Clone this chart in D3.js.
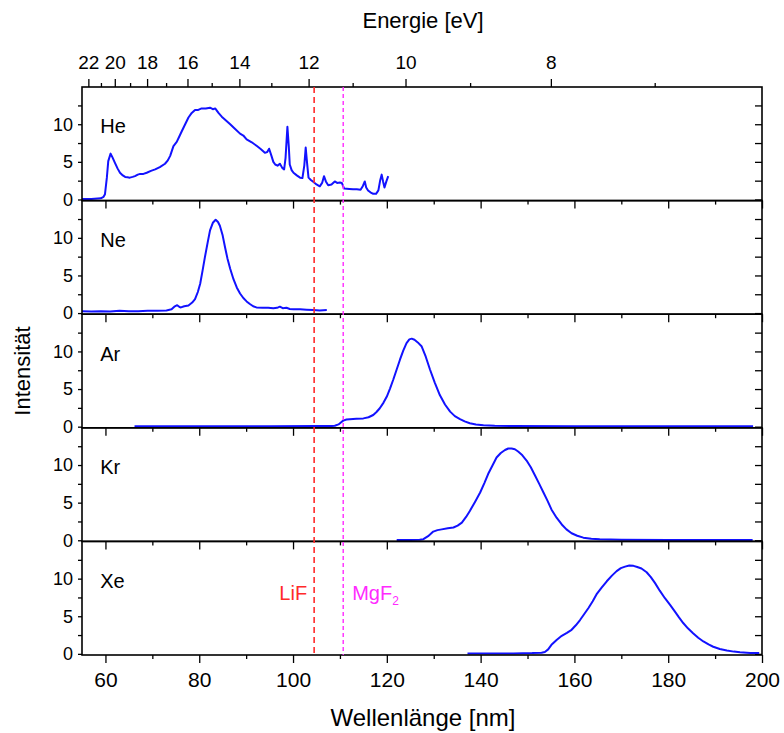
<!DOCTYPE html>
<html>
<head>
<meta charset="utf-8">
<script src="https://cdn.jsdelivr.net/npm/d3@7"></script>
<style>
  body { margin: 0; background: #fff; }
  svg { display: block; }
  text { font-family: "Liberation Sans", Arial, sans-serif; fill: #000; }
</style>
</head>
<body>
<svg id="chart" width="784" height="733"></svg>
<script>
// Rare-gas excimer emission spectra, one panel per gas
const gases = ["He", "Ne", "Ar", "Kr", "Xe"];

// [wavelength nm, intensity]
const heSpectrum = [
  [55, 0.05], [57, 0.05], [59, 0.15], [59.6, 0.35], [59.9, 0.7], [60.3, 2.9], [60.6, 5.1], [61.1, 6.1],
  [61.5, 5.6], [62.0, 4.9], [62.6, 4.1], [63.1, 3.55], [63.7, 3.2], [64.2, 3.0], [64.7, 2.95], [65.2, 2.9],
  [65.8, 3.0], [66.3, 3.1], [66.9, 3.3], [67.4, 3.4], [68.1, 3.4], [68.8, 3.55], [69.7, 3.8], [70.6, 4.0],
  [71.6, 4.3], [72.7, 4.75], [73.3, 5.2], [73.8, 5.8], [74.5, 7.1], [75.2, 7.65], [75.7, 8.3], [76.3, 9.1],
  [77.0, 10.0], [77.7, 10.9], [78.4, 11.5], [79.1, 11.9], [79.8, 11.9], [80.5, 12.1], [81.4, 12.1],
  [82.3, 12.2], [82.9, 12.0], [83.4, 12.1], [84.1, 11.5], [84.8, 11.0], [85.7, 10.5], [86.6, 10.0],
  [87.6, 9.4], [88.7, 8.75], [89.4, 8.5], [90.1, 8.0], [91.2, 7.6], [92.3, 7.1], [93.1, 6.7], [94.0, 6.2],
  [94.5, 6.3], [94.9, 6.75], [95.4, 5.8], [95.8, 5.0], [96.2, 4.65], [96.7, 4.5], [97.2, 4.75], [97.7, 4.2],
  [98.1, 4.0], [98.4, 5.5], [98.8, 9.65], [99.1, 7.0], [99.3, 4.65], [99.7, 3.9], [100.1, 3.55],
  [100.8, 3.2], [101.5, 2.9], [102.0, 2.85], [102.4, 4.5], [102.7, 6.9], [103.0, 4.8], [103.3, 2.9],
  [103.8, 2.6], [104.3, 2.35], [105.0, 2.0], [105.7, 1.75], [106.2, 2.2], [106.6, 3.1], [107.0, 2.4],
  [107.5, 1.9], [108.2, 2.0], [108.9, 2.4], [109.4, 2.2], [110.0, 2.25], [110.4, 2.2], [110.9, 1.45],
  [112.0, 1.4], [112.8, 1.35], [113.6, 1.35], [114.4, 1.3], [114.9, 1.8], [115.3, 2.4], [115.6, 1.6],
  [116.0, 1.2], [116.5, 0.95], [117.1, 0.75], [117.7, 0.75], [118.2, 1.2], [118.6, 2.6], [118.9, 3.3],
  [119.2, 2.4], [119.5, 1.6], [119.9, 2.4], [120.3, 3.1]
];
const neSpectrum = [
  [55, 0.25], [57, 0.2], [59, 0.25], [61, 0.2], [63, 0.3], [65, 0.25], [67, 0.25], [69, 0.3],
  [71, 0.3], [73, 0.35], [74.1, 0.5], [74.8, 0.9], [75.3, 1.05], [75.8, 0.8], [76.1, 0.75], [76.8, 0.9],
  [77.7, 1.0], [78.5, 1.4], [79.1, 1.85], [79.7, 2.8], [80.2, 3.9], [80.7, 5.6], [81.2, 7.4], [81.8, 9.4],
  [82.3, 11.0], [82.9, 12.0], [83.5, 12.4], [84.0, 12.1], [84.4, 11.6], [85.0, 10.3], [85.5, 8.75],
  [86.0, 7.3], [86.6, 5.9], [87.3, 4.5], [88.0, 3.4], [88.7, 2.6], [89.4, 2.0], [90.1, 1.55], [90.8, 1.2],
  [91.5, 0.9], [92.2, 0.75], [93.5, 0.7], [94.7, 0.7], [95.8, 0.65], [96.6, 0.7], [97.2, 0.85],
  [97.8, 0.65], [98.6, 0.7], [99.3, 0.55], [100.1, 0.5], [101.5, 0.5], [102.9, 0.45], [104.3, 0.4],
  [105.7, 0.35], [107.2, 0.4]
];
const arSpectrum = [
  [66.2, 0.05], [75, 0.05], [85, 0.05], [95, 0.06], [105, 0.08], [108.3, 0.1], [108.9, 0.12],
  [109.7, 0.3], [110.2, 0.55], [110.7, 0.8], [111.4, 0.95], [112.1, 1.0], [113.5, 1.05], [115.0, 1.1],
  [116.1, 1.25], [117.1, 1.55], [117.8, 1.95], [118.5, 2.45], [119.3, 3.2], [120.0, 4.0], [120.7, 5.1],
  [121.4, 6.3], [122.1, 7.6], [122.8, 8.9], [123.5, 10.1], [124.2, 11.1], [124.8, 11.6], [125.3, 11.7],
  [125.9, 11.55], [126.6, 11.2], [127.4, 10.7], [128.3, 9.3], [129.2, 7.6], [130.2, 5.9], [131.3, 4.2],
  [132.4, 2.95], [133.5, 2.0], [134.5, 1.4], [135.6, 1.0], [136.6, 0.7], [137.7, 0.45], [139.0, 0.3],
  [140.6, 0.2], [143, 0.12], [147, 0.08], [160, 0.05], [180, 0.05], [198.1, 0.05]
];
const krSpectrum = [
  [122.1, 0.05], [125, 0.05], [127.0, 0.08], [127.8, 0.15], [128.8, 0.55], [129.9, 1.15], [130.8, 1.35],
  [131.7, 1.45], [133.0, 1.6], [134.2, 1.7], [135.1, 1.95], [136.0, 2.35], [136.9, 3.1], [137.7, 3.9],
  [138.8, 5.1], [139.9, 6.35], [140.8, 7.6], [141.6, 8.8], [142.5, 9.9], [143.4, 11.0], [144.3, 11.6],
  [145.2, 12.0], [145.9, 12.2], [146.6, 12.2], [147.3, 12.1], [148.0, 11.8], [148.9, 11.3], [149.8, 10.6],
  [150.7, 9.7], [151.6, 8.6], [152.5, 7.5], [153.4, 6.35], [154.3, 5.2], [155.1, 4.1], [156.2, 3.0],
  [157.3, 2.1], [158.3, 1.45], [159.4, 0.93], [160.6, 0.6], [161.9, 0.35], [163.6, 0.2], [165.4, 0.13],
  [170, 0.08], [180, 0.05], [198, 0.03]
];
const xeSpectrum = [
  [137.2, 0.05], [142, 0.05], [147, 0.06], [151, 0.1], [153.0, 0.15], [153.7, 0.25], [154.4, 0.6],
  [155.1, 1.2], [156.2, 1.85], [157.3, 2.4], [158.4, 2.8], [159.4, 3.2], [160.3, 3.8], [161.2, 4.5],
  [162.1, 5.3], [163.0, 6.1], [163.9, 7.0], [164.7, 7.9], [165.8, 8.8], [166.9, 9.65], [168.0, 10.4],
  [169.0, 11.0], [169.9, 11.4], [170.8, 11.6], [171.7, 11.75], [172.6, 11.7], [173.4, 11.55],
  [174.3, 11.35], [175.4, 10.85], [176.3, 10.2], [177.2, 9.4], [178.2, 8.4], [179.3, 7.4], [180.4, 6.5],
  [181.4, 5.65], [182.3, 4.85], [183.2, 4.1], [184.2, 3.4], [185.3, 2.75], [186.4, 2.15], [187.5, 1.65],
  [188.6, 1.25], [189.6, 0.95], [191.0, 0.65], [192.5, 0.45], [194.0, 0.3], [195.3, 0.2], [197.5, 0.13],
  [199.4, 0.1]
];
const spectra = [heSpectrum, neSpectrum, arSpectrum, krSpectrum, xeSpectrum];

// Axis ticks
const wavelengthMajor = [60, 80, 100, 120, 140, 160, 180, 200];
const wavelengthMinor = [70, 90, 110, 130, 150, 170, 190];
const energyMajor = [22, 20, 18, 16, 14, 12, 10, 8];
const energyMinor = [21, 19, 17, 15, 13, 11, 9, 7];
const intensityMajor = [0, 5, 10];
const intensityMinor = [2.5, 7.5, 12.5];

// Transmission cut-offs of window materials (nm)
const windowNames = ["LiF", "MgF"];
const windowSubscripts = ["", "2"];
const windowCutoffs = [104.5, 110.7];
const windowColors = ["#ff2a2a", "#ff2aff"];

const HC = 1239.84; // eV·nm

const svg = d3.select("#chart");
const plotLeft = 82, plotRight = 762, plotTop = 87, plotBottom = 655;
const panelH = (plotBottom - plotTop) / gases.length;

const x = d3.scaleLinear().domain([55, 200]).range([plotLeft, plotRight]);
const y = d3.scaleLinear().domain([-0.15, 14.95]).range([panelH, 0]);

const line = d3.line().x(d => x(d[0])).y(d => y(d[1]));

function styleAxis(g) {
  g.select(".domain").remove();
  g.selectAll(".tick line").attr("stroke", "#000").attr("stroke-width", 1.3);
}

gases.forEach((gas, i) => {
  const g = svg.append("g").attr("transform", `translate(0,${plotTop + i * panelH})`);
  const isLast = i === gases.length - 1;

  // left intensity axis
  g.append("g").attr("transform", `translate(${plotLeft},0)`)
    .call(d3.axisLeft(y).tickValues(intensityMajor).tickSize(4).tickPadding(5).tickFormat(d3.format("d")))
    .call(styleAxis)
    .call(a => a.selectAll("text").attr("font-size", 18));
  g.append("g").attr("transform", `translate(${plotLeft},0)`)
    .call(d3.axisLeft(y).tickValues(intensityMinor).tickSize(4).tickFormat(""))
    .call(styleAxis);

  // right axis, ticks pointing inward
  g.append("g").attr("transform", `translate(${plotRight},0)`)
    .call(d3.axisRight(y).tickValues(intensityMajor.concat(intensityMinor)).tickSize(-7).tickFormat(""))
    .call(styleAxis);

  // bottom wavelength ticks
  const bx = d3.axisBottom(x).tickValues(wavelengthMajor).tickSize(8).tickPadding(9)
    .tickFormat(isLast ? d3.format("d") : "");
  g.append("g").attr("transform", `translate(0,${panelH})`)
    .call(bx).call(styleAxis)
    .call(a => a.selectAll("text").attr("font-size", 21));
  g.append("g").attr("transform", `translate(0,${panelH})`)
    .call(d3.axisBottom(x).tickValues(wavelengthMinor).tickSize(4).tickFormat(""))
    .call(styleAxis);

  // spectrum
  g.append("path").datum(spectra[i])
    .attr("fill", "none").attr("stroke", "#1212ff").attr("stroke-width", 2)
    .attr("stroke-linejoin", "round")
    .attr("d", line);

  // frame
  g.append("rect").attr("x", plotLeft).attr("y", 0).attr("width", plotRight - plotLeft).attr("height", panelH)
    .attr("fill", "none").attr("stroke", "#000").attr("stroke-width", 1.6);

  // gas name
  g.append("text").attr("x", x(58.9)).attr("y", y(9.7)).attr("dy", "0.35em")
    .attr("font-size", 20).text(gas);
});

// window cut-off lines across all panels
windowCutoffs.forEach((nm, k) => {
  svg.append("line")
    .attr("x1", x(nm)).attr("x2", x(nm)).attr("y1", plotTop).attr("y2", plotBottom)
    .attr("stroke", windowColors[k]).attr("stroke-width", k === 0 ? 1.6 : 1.4)
    .attr("stroke-dasharray", k === 0 ? "6,4" : "4,3");
});
const yXe = plotTop + 4 * panelH;
svg.append("text").attr("x", x(windowCutoffs[0]) - 7).attr("y", yXe + y(7.2))
  .attr("text-anchor", "end").attr("font-size", 20).style("fill", windowColors[0])
  .text(windowNames[0]);
const mg = svg.append("text").attr("x", x(windowCutoffs[1]) + 9).attr("y", yXe + y(7.2))
  .attr("font-size", 20).style("fill", windowColors[1]);
mg.append("tspan").text(windowNames[1]);
mg.append("tspan").attr("font-size", 12).attr("dy", 5).text(windowSubscripts[1]);

// top energy axis (E = hc / λ)
svg.append("g").attr("transform", `translate(0,${plotTop})`)
  .call(d3.axisTop(x).tickValues(energyMajor.map(e => HC / e)).tickSize(8).tickPadding(10)
    .tickFormat(d => Math.round(HC / d)))
  .call(styleAxis)
  .call(a => a.selectAll("text").attr("font-size", 19));
svg.append("g").attr("transform", `translate(0,${plotTop})`)
  .call(d3.axisTop(x).tickValues(energyMinor.map(e => HC / e)).tickSize(4).tickFormat(""))
  .call(styleAxis);

// axis titles
svg.append("text").attr("x", (plotLeft + plotRight) / 2 + 1).attr("y", 28)
  .attr("text-anchor", "middle").attr("font-size", 22).text("Energie [eV]");
svg.append("text").attr("x", (plotLeft + plotRight) / 2 + 1).attr("y", 726)
  .attr("text-anchor", "middle").attr("font-size", 24).text("Wellenlänge [nm]");
svg.append("text").attr("transform", `translate(30,${(plotTop + plotBottom) / 2}) rotate(-90)`)
  .attr("text-anchor", "middle").attr("font-size", 22).text("Intensität");
</script>
</body>
</html>
